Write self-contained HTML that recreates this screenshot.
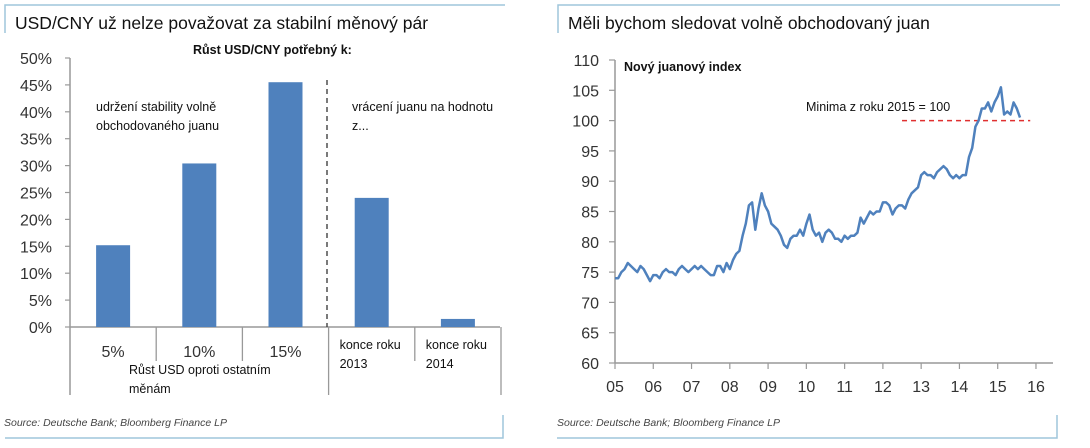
<!DOCTYPE html>
<html><head><meta charset="utf-8"><style>
body{margin:0;background:#fff;}
svg{display:block;font-family:"Liberation Sans",sans-serif;}
</style></head><body>
<svg id="s" width="1090" height="448" viewBox="0 0 1090 448" xmlns="http://www.w3.org/2000/svg">
<g stroke="#9fc6dc" stroke-width="1.5" fill="none">
<path d="M5 33 V5 H505"/><path d="M5 438 H503 V415"/>
</g>
<text x="15" y="29" font-size="17.5" fill="#111">USD/CNY už nelze považovat za stabilní měnový pár</text>
<text x="193" y="54" font-size="12.5" font-weight="bold" fill="#111">Růst USD/CNY potřebný k:</text>
<g id="lax"></g>
<g id="lbars"></g>
<line x1="327" y1="80" x2="327" y2="327" stroke="#333" stroke-width="1.3" stroke-dasharray="5,4"/>
<text x="96" y="111" font-size="12.5" fill="#111"><tspan x="96">udržení stability volně</tspan><tspan x="96" dy="19">obchodovaného juanu</tspan></text>
<text x="352" y="111" font-size="12.5" fill="#111"><tspan x="352">vrácení juanu na hodnotu</tspan><tspan x="352" dy="19">z...</tspan></text>
<text x="129" y="374" font-size="12.5" fill="#111"><tspan x="129">Růst USD oproti ostatním</tspan><tspan x="129" dy="19">měnám</tspan></text>
<text x="4" y="426" font-size="10.5" font-style="italic" fill="#444">Source: Deutsche Bank; Bloomberg Finance LP</text>

<g stroke="#9fc6dc" stroke-width="1.5" fill="none">
<path d="M558 33 V5 H1060"/><path d="M557 438 H1057 V415"/>
</g>
<text x="568" y="29" font-size="17.5" fill="#111">Měli bychom sledovat volně obchodovaný juan</text>
<text x="624" y="71" font-size="12.5" font-weight="bold" fill="#111">Nový juanový index</text>
<g id="rax"></g>
<text x="806" y="111" font-size="12.5" fill="#111">Minima z roku 2015 = 100</text>
<text x="557" y="426" font-size="10.5" font-style="italic" fill="#444">Source: Deutsche Bank; Bloomberg Finance LP</text>
</svg>
<script>
const barCategories=["5%","10%","15%","konce roku 2013","konce roku 2014"];
const barValues=[15.2,30.4,45.5,24,1.5];
const leftTicks=[0,5,10,15,20,25,30,35,40,45,50];
const yearTicks=["05","06","07","08","09","10","11","12","13","14","15","16"];
const rightTicks=[60,65,70,75,80,85,90,95,100,105,110];
const indexStart=2005;
const indexValues=[74,74,75,75.5,76.5,76,75.5,75,76,75.5,74.5,73.5,
74.5,74.5,74,75,75.5,75,75,74.5,75.5,76,75.5,75,
75.5,76,75.5,76,75.5,75,74.5,74.5,76,76,75,76.5,
75.5,77,78,78.5,81,83,86,86.5,82,85.5,88,86,
85,83,82.5,82,81,79.5,79,80.5,81,81,82,81,
83,84.5,82,81,81.5,80,81.5,82,81.5,80.5,80.5,80,
81,80.5,81,81,81.5,84,83,84,85,84.5,85,85,
86.5,86.5,86,84.5,85.5,86,86,85.5,87,88,88.5,89,
91,91.5,91,91,90.5,91.5,92,92.5,92,91,90.5,91,
90.5,91,91,94,95.5,99,100,102,102,103,101.5,103,
104,105.5,101,101.5,101,103,102,100.5];
const refLevel=100;
const refStart=2012.5, refEnd=2015.85;

const NS="http://www.w3.org/2000/svg";
const svg=document.getElementById('s');
function mk(t,a,p,txt){const e=document.createElementNS(NS,t);for(const k in a)e.setAttribute(k,a[k]);if(txt!==undefined)e.textContent=txt;(p||svg).appendChild(e);return e;}

// left chart
const lY=v=>327-v*(269/50);
const lX0=70,catW=86.2;
const lax=document.getElementById('lax');
mk('line',{x1:lX0,y1:58,x2:lX0,y2:395,stroke:'#999','stroke-width':1.5},lax);
mk('line',{x1:lX0,y1:327,x2:500,y2:327,stroke:'#999','stroke-width':1.5},lax);
leftTicks.forEach(t=>{
  mk('line',{x1:lX0-5,y1:lY(t),x2:lX0,y2:lY(t),stroke:'#999','stroke-width':1.2},lax);
  const tx=mk('text',{x:52,y:lY(t)+6,'font-size':16,'text-anchor':'end',fill:'#333'},lax,t+'%');
  
  
});
for(let i=1;i<=5;i++){
  const x=lX0+i*catW;
  const long=(i===3||i===5);
  mk('line',{x1:x,y1:327,x2:x,y2:long?395:361,stroke:'#999','stroke-width':1.3},lax);
}
const lbars=document.getElementById('lbars');
barValues.forEach((v,i)=>{
  const cx=lX0+(i+0.5)*catW;
  const r=mk('rect',{x:cx-17,y:lY(v),width:34,height:lY(0)-lY(v),fill:'#4f81bd'},lbars);
  
  
  let lab;
  if(i<3){lab=mk('text',{x:cx,y:357,'font-size':16,'text-anchor':'middle',fill:'#333'},lbars,barCategories[i]);}
  else{const parts=barCategories[i].split(' ');lab=mk('text',{x:lX0+i*catW+11,y:349,'font-size':12.5,fill:'#111'},lbars);
    mk('tspan',{x:lX0+i*catW+11},lab,parts[0]+' '+parts[1]);mk('tspan',{x:lX0+i*catW+11,dy:19},lab,parts[2]);}
  
  
});

// right chart
const rY=v=>363-(v-60)*(303/50);
const rX=t=>615+(t-2005)*38.27;
const rax=document.getElementById('rax');
mk('line',{x1:615,y1:60,x2:615,y2:363,stroke:'#999','stroke-width':1.5},rax);
mk('line',{x1:615,y1:363,x2:1053,y2:363,stroke:'#999','stroke-width':1.5},rax);
rightTicks.forEach(t=>{
  mk('line',{x1:609,y1:rY(t),x2:615,y2:rY(t),stroke:'#999','stroke-width':1.2},rax);
  const tx=mk('text',{x:599,y:rY(t)+6,'font-size':16,'text-anchor':'end',fill:'#333'},rax,String(t));
  
  
});
yearTicks.forEach((t,i)=>{
  const x=rX(2005+i);
  mk('line',{x1:x,y1:363,x2:x,y2:369,stroke:'#999','stroke-width':1.2},rax);
  const tx=mk('text',{x:x,y:392,'font-size':16,'text-anchor':'middle',fill:'#333'},rax,t);
  
  
});
const ref=mk('line',{x1:rX(refStart),y1:rY(refLevel),x2:rX(refEnd),y2:rY(refLevel),stroke:'#e03030','stroke-width':1.5,'stroke-dasharray':'5,4'});


const pts=indexValues.map((v,i)=>rX(indexStart+i/12).toFixed(1)+','+rY(v).toFixed(1)).join(' ');
const line=mk('polyline',{points:pts,fill:'none',stroke:'#4f81bd','stroke-width':2.5,'stroke-linejoin':'round'});


</script>
</body></html>
